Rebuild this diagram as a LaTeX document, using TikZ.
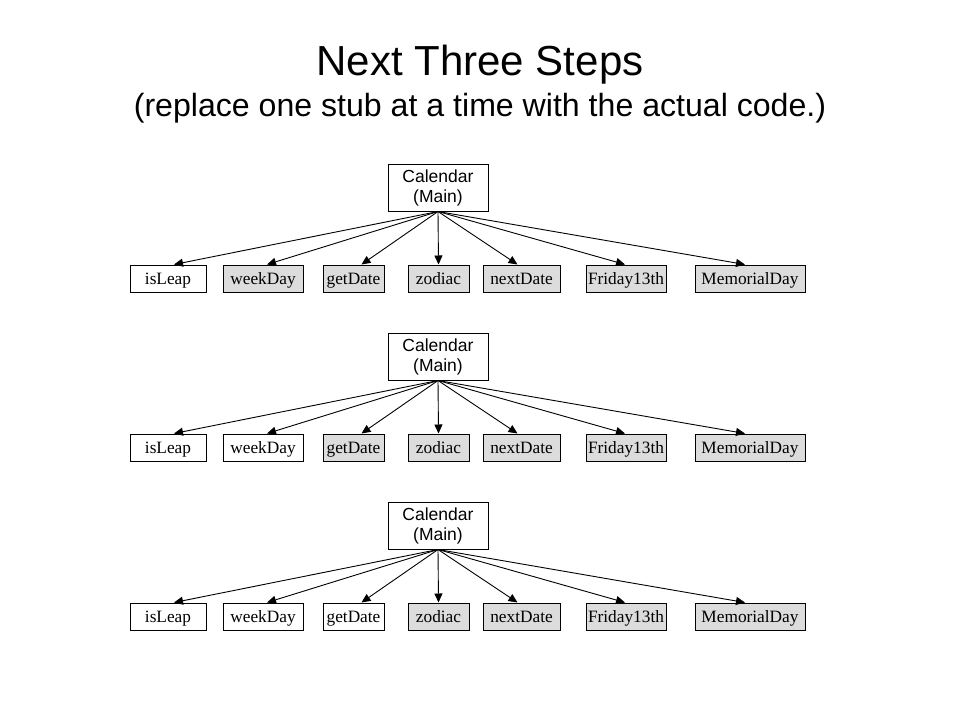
\documentclass[tikz,border=0pt]{standalone}
\usepackage{fontspec}
\setmainfont{Liberation Serif}
\newfontfamily\arialfont{Liberation Sans}
\usetikzlibrary{arrows.meta}
\definecolor{stubgray}{RGB}{220,220,220}
\tikzset{
  titletext/.style={font=\arialfont\fontsize{42}{50}\selectfont, anchor=base},
  subtext/.style={font=\arialfont\fontsize{32.1}{40}\selectfont, anchor=base},
  mainbox/.style={draw=black, line width=1pt, fill=white, minimum width=100pt, minimum height=47pt,
    inner sep=0pt, align=center, font=\arialfont\fontsize{17.5}{20}\selectfont},
  modbox/.style={draw=black, line width=1pt, minimum height=27pt, inner sep=0pt,
    text height=12pt, text depth=1pt, font=\fontsize{17.3}{19}\selectfont},
  done/.style={modbox, fill=white},
  stub/.style={modbox, fill=stubgray},
  callarrow/.style={line width=0.9pt, -{Triangle[length=9pt,width=8pt]}}
}
\begin{document}
\begin{tikzpicture}[x=1pt,y=-1pt]
\useasboundingbox (0,0) rectangle (960,720);
\node[titletext] (title) at (480,75) {Next Three Steps};
\node[subtext] (subtitle) at (480,116) {(replace one stub at a time with the actual code.)};
\foreach \r/\dy in {1/0,2/169,3/338}{
  \node[mainbox] (cal\r) at (438,187.5+\dy) {Calendar\\(Main)};
  \foreach \t/\cx/\w/\off [count=\j] in {isLeap/168/76/6, weekDay/263/80/4, getDate/353.5/61/8, zodiac/438.5/61/0, nextDate/521.5/77/-4, Friday13th/626/80/-1, MemorialDay/750/110/-5}{
    \ifnum\j>\r
      \node[stub, minimum width=\w pt] (m\r-\j) at (\cx,278.5+\dy) {\t};
    \else
      \node[done, minimum width=\w pt] (m\r-\j) at (\cx,278.5+\dy) {\t};
    \fi
    \draw[callarrow] (cal\r.south) -- ([xshift=\off pt]m\r-\j.north);
  }
}
\end{tikzpicture}
\end{document}
